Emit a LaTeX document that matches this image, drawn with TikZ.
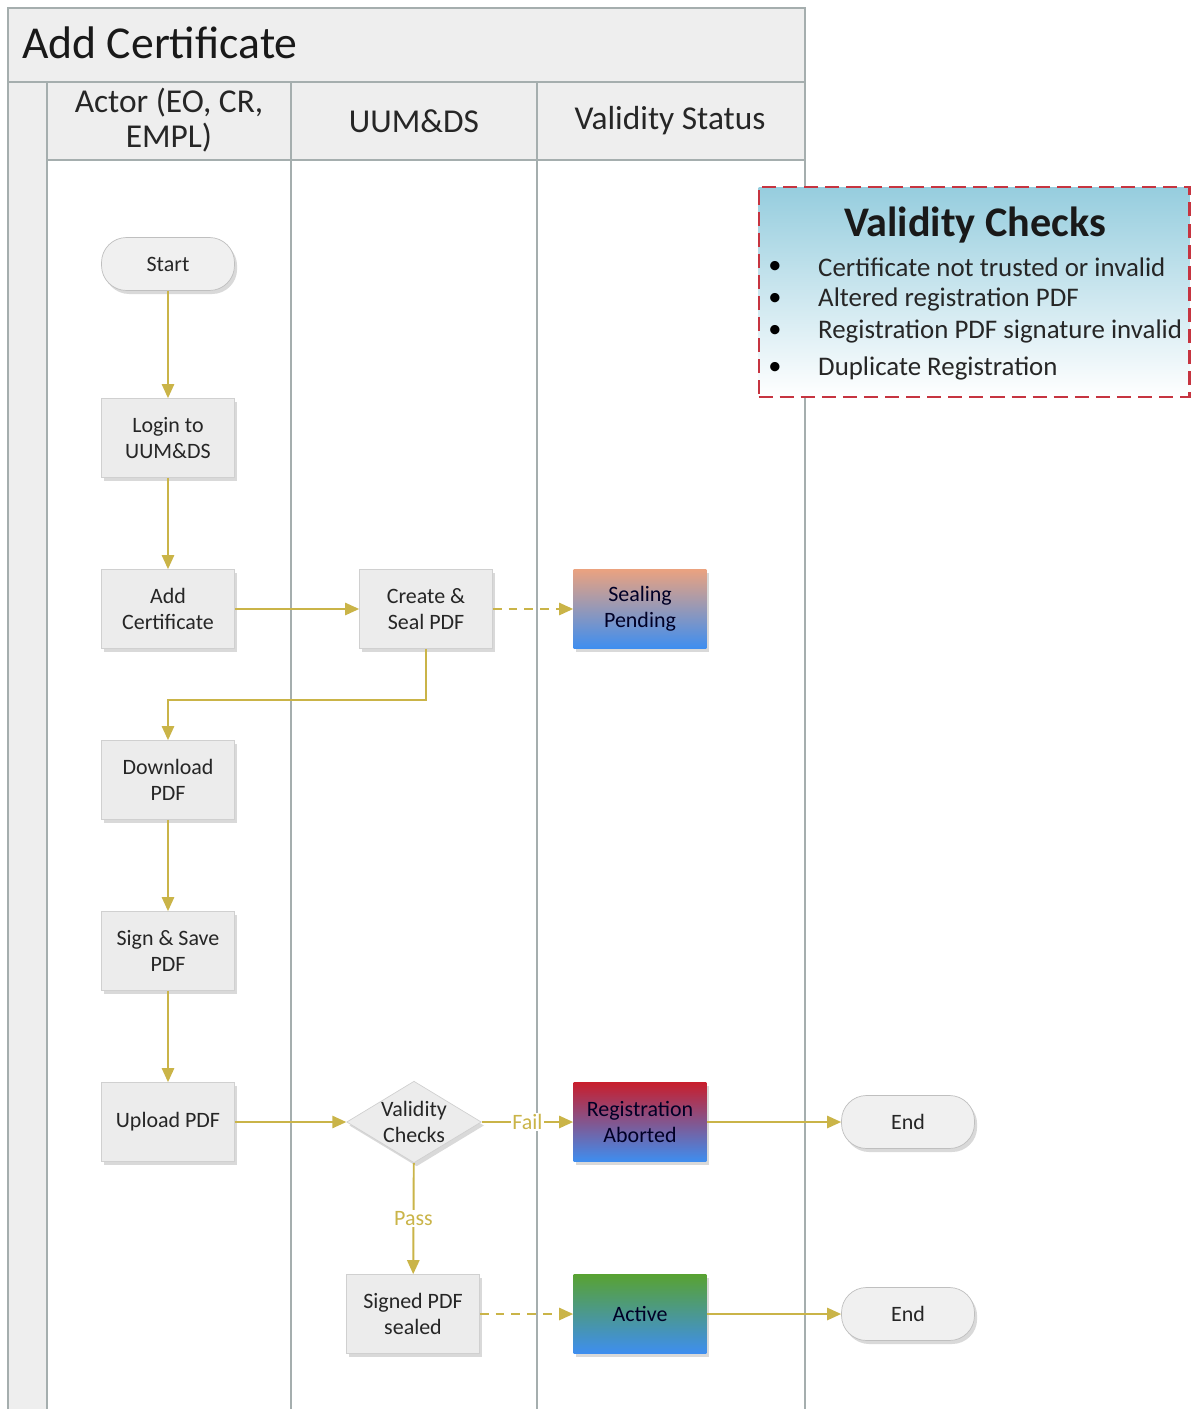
\documentclass[tikz,border=0pt]{standalone}
\usepackage{fontspec}
\setmainfont{Carlito}
\usepackage{tikz}
\usetikzlibrary{positioning}
\usetikzlibrary{arrows.meta,shapes,shadows,calc}
\usepackage{xcolor}

\definecolor{flowgold}{RGB}{202,180,72}
\definecolor{laneline}{RGB}{165,174,174}
\definecolor{lanefill}{RGB}{238,238,238}
\definecolor{boxfill}{RGB}{236,236,236}
\definecolor{boxline}{RGB}{208,208,208}
\definecolor{checkred}{RGB}{198,52,64}
\definecolor{checkblue}{RGB}{150,205,222}
\definecolor{stblue}{RGB}{62,142,240}
\definecolor{storange}{RGB}{234,162,128}
\definecolor{stred}{RGB}{200,30,45}
\definecolor{stgreen}{RGB}{88,162,50}

\tikzset{
  proc/.style={rectangle, draw=boxline, fill=boxfill, minimum width=2.66cm, minimum height=1.58cm,
    align=center, text=black!85, font=\fontsize{12.5}{15}\selectfont,
    drop shadow={shadow xshift=1.5pt, shadow yshift=-2pt, opacity=0.3}},
  term/.style={proc, rounded corners=0.5cm, minimum height=1.06cm, fill=black!6, draw=black!25},
  status/.style={proc, draw=none, text=black!85!blue},
  decision/.style={diamond, draw=boxline, fill=boxfill, minimum width=2.64cm, minimum height=1.6cm,
    aspect=1.65, inner sep=0pt, align=center, text=black!85, font=\fontsize{12.5}{15}\selectfont,
    drop shadow={shadow xshift=1.5pt, shadow yshift=-2pt, opacity=0.3}},
  flow/.style={draw=flowgold, line width=1.1pt, -{Triangle[length=8pt,width=7pt]}},
  flowdash/.style={flow, dash pattern=on 5pt off 4pt},
  flowlabel/.style={fill=white, text=flowgold, inner sep=1pt, font=\fontsize{12.5}{15}\selectfont},
  lanehead/.style={align=center, text=black!85, font=\fontsize{19}{20}\selectfont},
}

\begin{document}
\begin{tikzpicture}[x=0.02cm, y=-0.02cm]
\useasboundingbox (0,0) rectangle (1192,1409);

% pool and lanes
\fill[lanefill] (8,8) rectangle (805,82);
\fill[lanefill] (47,82) rectangle (805,160);
\fill[lanefill] (8,82) rectangle (47,1409);
\draw[laneline, line width=0.8pt] (8,1409) -- (8,8) -- (805,8) -- (805,1409);
\draw[laneline, line width=0.8pt] (8,82) -- (805,82);
\draw[laneline, line width=0.8pt] (47,160) -- (805,160);
\draw[laneline, line width=0.8pt] (47,82) -- (47,1409);
\draw[laneline, line width=0.8pt] (291,82) -- (291,1409);
\draw[laneline, line width=0.8pt] (537,82) -- (537,1409);

\node[anchor=west, text=black!90, font=\fontsize{26}{30}\selectfont] (pooltitle) at (16,43) {Add Certificate};
\node[lanehead] (hactor) at (169,120) {Actor (EO, CR,\\EMPL)};
\node[lanehead] (huum) at (414,121) {UUM\&DS};
\node[lanehead] (hstatus) at (670,121) {Validity Status};

% nodes
\node[term] (start) at (168,264) {Start};
\node[proc] (login) at (168,438) {Login to\\UUM\&DS};
\node[proc] (addcert) at (168,609) {Add\\Certificate};
\node[proc] (seal) at (426,609) {Create \&\\Seal PDF};
\node[status, top color=storange, middle color=stblue!65!storange, bottom color=stblue] (pending) at (640,609) {Sealing\\Pending};
\node[proc] (download) at (168,780) {Download\\PDF};
\node[proc] (signsave) at (168,951) {Sign \& Save\\PDF};
\node[proc] (upload) at (168,1122) {Upload PDF};
\node[decision] (check) at (414,1122) {Validity\\Checks};
\node[status, top color=stred, middle color=stblue!60!stred, bottom color=stblue] (aborted) at (640,1122) {Registration\\Aborted};
\node[term] (endfail) at (908,1122) {End};
\node[proc] (signed) at (413,1314) {Signed PDF\\sealed};
\node[status, top color=stgreen, middle color=stblue!55!stgreen, bottom color=stblue] (active) at (640,1314) {Active};
\node[term] (endok) at (908,1314) {End};
\coordinate (bend) at (168,700);

% connectors
\draw[flow] (start) -- (login);
\draw[flow] (login) -- (addcert);
\draw[flow] (addcert) -- (seal);
\draw[flowdash] (seal) -- (pending);
\draw[flow] (seal.south) |- (bend) -- (download);
\draw[flow] (download) -- (signsave);
\draw[flow] (signsave) -- (upload);
\draw[flow] (upload) -- (check);
\draw[flow] (check) -- node[flowlabel] {Fail} (aborted);
\draw[flow] (check) -- node[flowlabel] {Pass} (signed);
\draw[flowdash] (signed) -- (active);
\draw[flow] (aborted) -- (endfail);
\draw[flow] (active) -- (endok);

% validity checks note
\node[rectangle, draw=checkred, line width=1.2pt, dash pattern=on 8pt off 4pt,
  top color=checkblue, bottom color=white, minimum width=8.62cm, minimum height=4.2cm] (vcbox) at (974,292) {};
\node[font=\bfseries\fontsize{24}{28}\selectfont, text=black!90] (vctitle) at (975,225) {Validity Checks};
\node[font=\fontsize{15}{18}\selectfont] (b1) at (775,267) {\textbullet};
\node[font=\fontsize{15}{18}\selectfont] (b2) at (775,299) {\textbullet};
\node[font=\fontsize{15}{18}\selectfont] (b3) at (775,331) {\textbullet};
\node[font=\fontsize{15}{18}\selectfont] (b4) at (775,368) {\textbullet};
\node[anchor=west, font=\fontsize{15.3}{18}\selectfont, text=black!85] (vc1) at (812,267) {Certificate not trusted or invalid};
\node[anchor=west, font=\fontsize{15.3}{18}\selectfont, text=black!85] (vc2) at (812,299) {Altered registration PDF};
\node[anchor=west, font=\fontsize{15.3}{18}\selectfont, text=black!85] (vc3) at (812,331) {Registration PDF signature invalid};
\node[anchor=west, font=\fontsize{15.3}{18}\selectfont, text=black!85] (vc4) at (812,368) {Duplicate Registration};

\end{tikzpicture}
\end{document}
